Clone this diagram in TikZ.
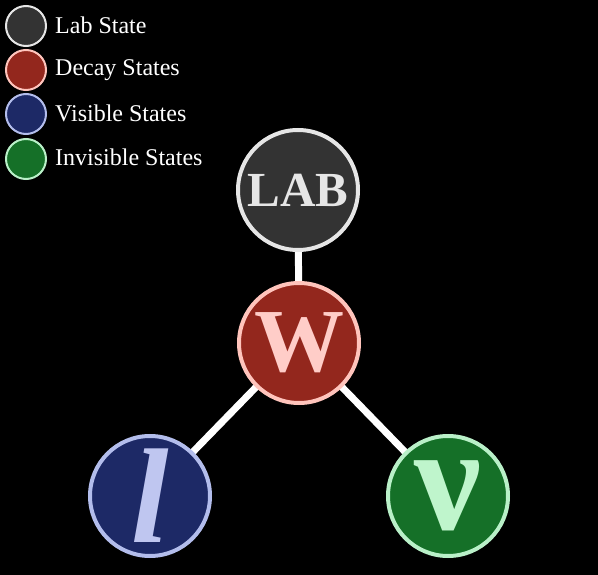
\documentclass[tikz,border=0pt]{standalone}
\usepackage{fontspec}
\setmainfont{Liberation Serif}
\usetikzlibrary{backgrounds}
\definecolor{labfill}{HTML}{333333}
\definecolor{labedge}{HTML}{E6E6E6}
\definecolor{decfill}{HTML}{93271D}
\definecolor{decedge}{HTML}{FFC4BC}
\definecolor{dectext}{HTML}{FFCDC8}
\definecolor{visfill}{HTML}{1D2966}
\definecolor{visedge}{HTML}{B3BDEC}
\definecolor{vistext}{HTML}{BFC6F0}
\definecolor{invfill}{HTML}{157028}
\definecolor{invedge}{HTML}{B9F0C8}
\definecolor{invtext}{HTML}{BFF5CC}
\tikzset{
  state/.style={circle, minimum size=120pt, inner sep=0pt, line width=4pt},
  keydot/.style={circle, minimum size=40pt, inner sep=0pt, line width=2pt},
  keytext/.style={anchor=base west, text=white, inner sep=0pt, font=\fontsize{24}{24}\selectfont},
  link/.style={draw=white, line width=7pt}
}
\begin{document}
\begin{tikzpicture}[x=1pt,y=-1pt]
  \useasboundingbox (0,0) rectangle (598,575);

  % legend
  \node[keydot, fill=labfill, draw=labedge] (k1) at (26,26) {};
  \node[keydot, fill=decfill, draw=decedge] (k2) at (26,70) {};
  \node[keydot, fill=visfill, draw=visedge] (k3) at (26,114) {};
  \node[keydot, fill=invfill, draw=invedge] (k4) at (26,159) {};
  \node[keytext] (t1) at (55,34) {Lab State};
  \node[keytext] (t2) at (55,76) {Decay States};
  \node[keytext] (t3) at (55,122) {Visible States};
  \node[keytext] (t4) at (55,166) {Invisible States};

  % decay tree
  \node[state, fill=labfill, draw=labedge, text=labedge,
        font=\fontsize{49}{49}\selectfont\bfseries] (lab) at (298,190) {LAB};
  \node[state, fill=decfill, draw=decedge, text=dectext,
        font=\fontsize{90}{90}\selectfont\bfseries] (w) at (299,343) {W};
  \node[state, fill=visfill, draw=visedge, text=vistext,
        font=\fontsize{135}{135}\selectfont\bfseries\itshape] (l) at (150,496) {l};
  \node[state, fill=invfill, draw=invedge, text=invtext,
        font=\fontsize{150}{150}\selectfont\bfseries] (nu) at (448,496) {ν};

  \begin{pgfonlayer}{background}
    \fill[black] (0,0) rectangle (598,575);
    \draw[link] (lab.center) -- (w.center);
    \draw[link] (w.center) -- (l.center);
    \draw[link] (w.center) -- (nu.center);
  \end{pgfonlayer}
\end{tikzpicture}
\end{document}
